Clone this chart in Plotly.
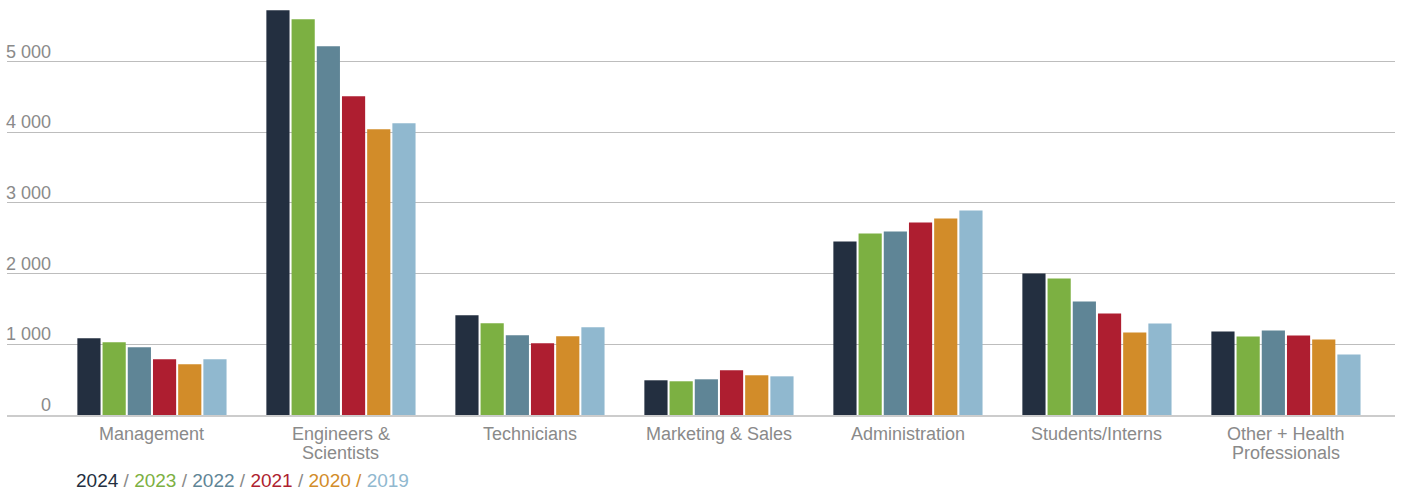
import plotly.graph_objects as go

categories = ["Management", "Engineers &<br>Scientists", "Technicians", "Marketing & Sales",
              "Administration", "Students/Interns", "Other + Health<br>Professionals"]

years = ["2024", "2023", "2022", "2021", "2020", "2019"]

v2024 = [1085, 5724, 1410, 491, 2454, 2001, 1181]
v2023 = [1028, 5597, 1297, 477, 2567, 1931, 1110]
v2022 = [957, 5215, 1127, 505, 2595, 1605, 1195]
v2021 = [788, 4508, 1014, 632, 2723, 1435, 1124]
v2020 = [717, 4041, 1113, 562, 2779, 1167, 1068]
v2019 = [788, 4126, 1240, 547, 2892, 1294, 856]

series = [v2024, v2023, v2022, v2021, v2020, v2019]
colors = ["#232F40", "#7CB042", "#5F8596", "#AE1E30", "#D28C29", "#90B8CF"]

y_ticks = [0, 1000, 2000, 3000, 4000, 5000]

font_family = "Liberation Sans, Arial, Helvetica, sans-serif"
text_gray = "#8a8a8a"

fig = go.Figure()
for name, vals, col in zip(years, series, colors):
    fig.add_trace(go.Bar(name=name, x=list(range(len(categories))), y=vals,
                         marker=dict(color=col, line=dict(width=0)),
                         hovertemplate="%{y}<extra>" + name + "</extra>"))

annotations = []

# y tick labels sit above their grid lines, right-aligned near the left edge
for t in y_ticks:
    label = f"{t:,}".replace(",", " ")
    annotations.append(dict(xref="paper", yref="y", x=0.0335, y=t, text=label,
                            xanchor="right", yanchor="bottom", yshift=-2, showarrow=False,
                            font=dict(family=font_family, size=18, color=text_gray)))

# category labels, one annotation per line for a tighter line height
for i, cat in enumerate(categories):
    for j, line in enumerate(cat.split("<br>")):
        annotations.append(dict(xref="x", yref="paper", x=i, y=0, text=line,
                                xanchor="center", yanchor="top", yshift=-7 - 19 * j,
                                showarrow=False,
                                font=dict(family=font_family, size=18, color=text_gray)))

# year key: coloured years separated by slashes
parts = []
for i, (yr, col) in enumerate(zip(years, colors)):
    parts.append(f'<span style="color:{col}">{yr}</span>')
    if i < len(years) - 1:
        sep_col = col if yr == "2020" else "#8a8a8a"
        parts.append(f'<span style="color:{sep_col}"> / </span>')
annotations.append(dict(xref="paper", yref="paper", x=0.048, y=-0.159, text="".join(parts),
                        xanchor="left", yanchor="middle", showarrow=False,
                        font=dict(family=font_family, size=19)))

fig.update_layout(
    width=1403, height=493,
    margin=dict(l=7, r=8, t=0, b=78),
    paper_bgcolor="white", plot_bgcolor="white",
    barmode="group", bargap=0.2, bargroupgap=0.08,
    showlegend=False,
    font=dict(family=font_family, color=text_gray),
    xaxis=dict(tickvals=list(range(len(categories))), showticklabels=False,
               range=[-0.767, 6.577], showgrid=False, zeroline=False,
               showline=True, linecolor="#cccccc", linewidth=2, ticks=""),
    yaxis=dict(range=[0, 5870], tickvals=y_ticks, showticklabels=False,
               showgrid=True, gridcolor="#bdbdbd", gridwidth=1, zeroline=False),
    annotations=annotations,
)

fig.write_html("out.html")
